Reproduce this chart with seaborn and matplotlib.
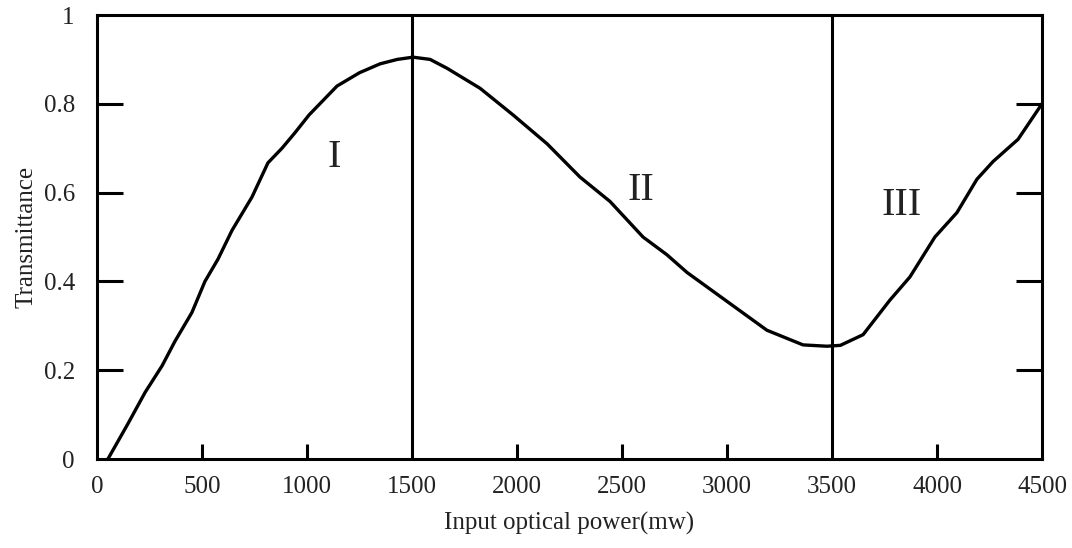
import matplotlib
matplotlib.use("Agg")
import matplotlib.pyplot as plt
import seaborn as sns
import pandas as pd

# ---- data ----
power_mw = [52, 148, 229, 310, 371, 452, 514, 576, 643, 738, 814, 881, 943, 1010,
            1143, 1250, 1348, 1430, 1505, 1586, 1667, 1824, 1981, 2143, 2300, 2443,
            2600, 2714, 2810, 3000, 3190, 3362, 3476, 3540, 3648, 3776, 3871, 3990,
            4095, 4190, 4267, 4386, 4500]
transmittance = [0.0, 0.08, 0.15, 0.21, 0.265, 0.33, 0.40, 0.45, 0.515, 0.59, 0.667,
                 0.70, 0.735, 0.775, 0.84, 0.87, 0.89, 0.90, 0.905, 0.90, 0.88, 0.835,
                 0.775, 0.71, 0.635, 0.58, 0.50, 0.46, 0.42, 0.355, 0.29, 0.257,
                 0.254, 0.256, 0.28, 0.358, 0.41, 0.50, 0.555, 0.63, 0.67, 0.72, 0.80]
region_bounds = [1500, 3500]
region_labels = ["I", "II", "III"]
region_label_x = [1130, 2590, 3830]
region_label_y = [0.68, 0.605, 0.57]
x_tick_values = [0, 500, 1000, 1500, 2000, 2500, 3000, 3500, 4000, 4500]
x_tick_labels = ["0", "500", "1000", "1500", "2000", "2500", "3000", "3500", "4000", "4500"]
x_minor_ticks = [500, 1000, 2000, 2500, 3000, 4000]
y_tick_values = [0, 0.2, 0.4, 0.6, 0.8, 1]
y_tick_labels = ["0", "0.2", "0.4", "0.6", "0.8", "1"]
y_minor_ticks = [0.2, 0.4, 0.6, 0.8]

sns.set_style("ticks")
plt.rcParams['font.family'] = ['Liberation Serif', 'DejaVu Serif']

fig = plt.figure(figsize=(10.72, 5.48), dpi=100)
ax = fig.add_axes([97/1072, 1 - 459/548, (1042-97)/1072, (459-15)/548])

df = pd.DataFrame({"power": power_mw, "T": transmittance})
sns.lineplot(data=df, x="power", y="T", ax=ax, color="black", linewidth=2.4)

for xb in region_bounds:
    ax.axvline(xb, color="black", linewidth=2.2)

for lab, lx, ly in zip(region_labels, region_label_x, region_label_y):
    ax.text(lx, ly, lab, fontsize=29, ha="center", va="center", color="#222222")

ax.set_xlim(0, 4500)
ax.set_ylim(0, 1)

ax.xaxis.remove_overlapping_locs = False
ax.yaxis.remove_overlapping_locs = False
ax.set_xticks(x_tick_values)
ax.set_xticklabels(x_tick_labels)
ax.set_yticks(y_tick_values)
ax.set_yticklabels(y_tick_labels)
ax.set_xticks(x_minor_ticks, minor=True)
ax.set_yticks(y_minor_ticks, minor=True)

ax.tick_params(axis="both", which="major", length=0, labelsize=18, colors="#222222", pad=16)
ax.tick_params(axis="x", which="major", pad=12)
ax.tick_params(axis="x", which="minor", direction="in", length=11, width=2.2, color="black",
               bottom=True, top=False)
ax.tick_params(axis="y", which="minor", direction="in", length=19, width=2.2, color="black",
               left=True, right=True)

for sp in ax.spines.values():
    sp.set_visible(True)
    sp.set_linewidth(2.2)
    sp.set_color("black")

ax.set_xlabel("Input optical power(mw)", fontsize=18, color="#222222", labelpad=10)
ax.set_ylabel("Transmittance", fontsize=18, color="#222222", labelpad=4)

fig.savefig("out.png", dpi=100, facecolor="white")
